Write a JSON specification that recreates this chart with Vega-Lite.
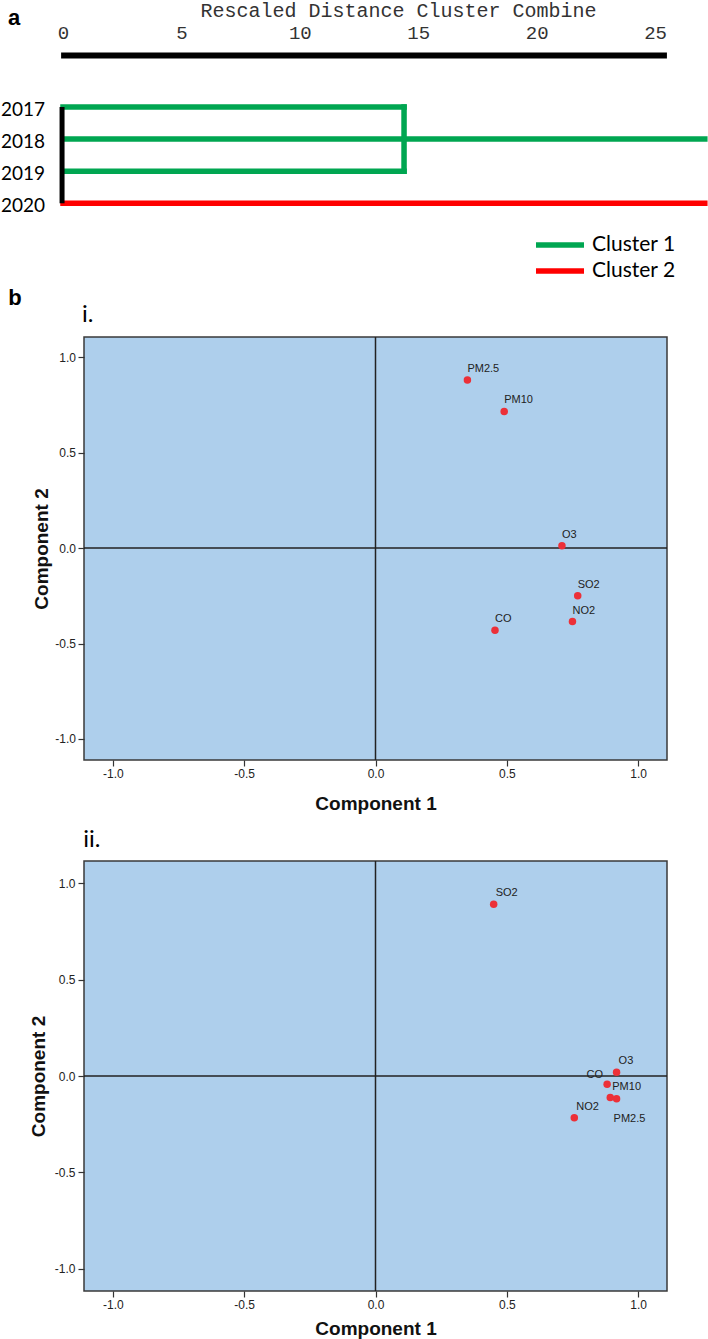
{
  "$schema": "https://vega.github.io/schema/vega-lite/v6.json",
  "background": "white",
  "padding": 0,
  "spacing": 101,
  "bounds": "flush",
  "center": true,
  "config": {"view": {"stroke": null}},
  "datasets": {
    "links": [
      {"cluster": "Cluster 1", "dist_from": 0, "dist_to": 14.4, "leaf_from": 1, "leaf_to": 1},
      {"cluster": "Cluster 1", "dist_from": 0, "dist_to": 27.1, "leaf_from": 2, "leaf_to": 2},
      {"cluster": "Cluster 1", "dist_from": 0, "dist_to": 14.4, "leaf_from": 3, "leaf_to": 3},
      {"cluster": "Cluster 1", "dist_from": 14.4, "dist_to": 14.4, "leaf_from": 1, "leaf_to": 3},
      {"cluster": "Cluster 2", "dist_from": 0, "dist_to": 27.1, "leaf_from": 4, "leaf_to": 4}
    ],
    "leaves": [
      {"year": "2017", "leaf": 1},
      {"year": "2018", "leaf": 2},
      {"year": "2019", "leaf": 3},
      {"year": "2020", "leaf": 4}
    ],
    "loadings_i": [
      {"variable": "PM2.5", "component1": 0.35, "component2": 0.88},
      {"variable": "PM10", "component1": 0.49, "component2": 0.715},
      {"variable": "O3", "component1": 0.71, "component2": 0.012},
      {"variable": "SO2", "component1": 0.77, "component2": -0.25},
      {"variable": "NO2", "component1": 0.75, "component2": -0.385},
      {"variable": "CO", "component1": 0.455, "component2": -0.43}
    ],
    "loadings_ii": [
      {"variable": "SO2", "component1": 0.45, "component2": 0.89},
      {"variable": "O3", "component1": 0.918, "component2": 0.019},
      {"variable": "CO", "component1": 0.882, "component2": -0.043},
      {"variable": "PM10", "component1": 0.894, "component2": -0.112},
      {"variable": "PM2.5", "component1": 0.918, "component2": -0.118},
      {"variable": "NO2", "component1": 0.757, "component2": -0.216}
    ]
  },
  "vconcat": [
    {
      "width": 625,
      "height": 236,
      "layer": [
        {
          "data": {"name": "links"},
          "mark": {"type": "rule", "strokeWidth": 5.5, "strokeCap": "square"},
          "encoding": {
            "x": {
              "field": "dist_from", "type": "quantitative",
              "scale": {"domain": [0, 26.39], "nice": false, "zero": false},
              "axis": {
                "orient": "top", "offset": -55.5, "values": [0, 5, 10, 15, 20, 25],
                "domain": false, "ticks": false, "tickSize": 0, "grid": false,
                "labelFont": "Liberation Mono", "labelFontSize": 19, "labelColor": "#333",
                "labelBaseline": "middle", "labelPadding": 23.5, "labelFlush": false, "labelOverlap": false,
                "title": "Rescaled Distance Cluster Combine", "titleFont": "Liberation Mono",
                "titleFontSize": 20, "titleFontWeight": "normal", "titleColor": "#333",
                "titleBaseline": "top", "titleY": -55, "titleX": 335, "titleAlign": "center"
              }
            },
            "x2": {"field": "dist_to"},
            "y": {
              "field": "leaf_from", "type": "quantitative",
              "scale": {"domain": [-2.333, 5.019], "reverse": true, "nice": false, "zero": false},
              "axis": null
            },
            "y2": {"field": "leaf_to"},
            "color": {
              "field": "cluster", "type": "nominal",
              "scale": {"domain": ["Cluster 1", "Cluster 2"], "range": ["#00A651", "#FF0000"]},
              "legend": {
                "title": null, "orient": "none", "legendX": 482, "legendY": 230, "direction": "vertical",
                "symbolType": "M-2,0H2", "symbolSize": 576, "symbolStrokeWidth": 5.5, "symbolOffset": 0,
                "labelFont": "Lato", "labelFontSize": 21, "labelColor": "#000", "labelOffset": 17,
                "labelBaseline": "middle", "rowPadding": 0, "padding": 0
              }
            }
          }
        },
        {
          "data": {"name": "leaves"},
          "mark": {"type": "rule", "color": "#000", "strokeWidth": 5},
          "encoding": {
            "x": {"datum": -0.04, "axis": {"orient": "top"}},
            "y": {"aggregate": "min", "field": "leaf", "type": "quantitative", "axis": null},
            "y2": {"aggregate": "max", "field": "leaf"}
          }
        },
        {
          "data": {"values": [{}]},
          "mark": {"type": "rule", "color": "#000", "strokeWidth": 6},
          "encoding": {
            "x": {"datum": -0.08, "axis": {"orient": "top"}},
            "x2": {"datum": 25.5},
            "y": {"datum": -0.604, "axis": null}
          }
        },
        {
          "data": {"name": "leaves"},
          "mark": {"type": "text", "align": "right", "baseline": "middle", "font": "Lato", "fontSize": 19, "color": "#000", "dy": 3},
          "encoding": {
            "x": {"datum": -0.76, "axis": {"orient": "top"}},
            "y": {"field": "leaf", "type": "quantitative", "axis": null},
            "text": {"field": "year"}
          }
        },
        {
          "data": {"values": [{}]},
          "mark": {"type": "text", "text": "a", "align": "left", "baseline": "alphabetic", "font": "Liberation Sans", "fontSize": 22, "fontWeight": "bold", "color": "#000"},
          "encoding": {
            "x": {"datum": -2.32, "axis": {"orient": "top"}},
            "y": {"datum": -1.554, "axis": null}
          }
        }
      ]
    },
    {
      "width": 583,
      "height": 423,
      "view": {"fill": "#AECFEC", "stroke": "#3a3a3a", "strokeWidth": 1.5},
      "layer": [
        {
          "data": {"values": [{}]},
          "mark": {"type": "rule", "color": "#222", "strokeWidth": 1.5},
          "encoding": {"x": {"datum": 0}}
        },
        {
          "data": {"values": [{}]},
          "mark": {"type": "rule", "color": "#222", "strokeWidth": 1.5},
          "encoding": {"y": {"datum": 0}}
        },
        {
          "data": {"name": "loadings_i"},
          "mark": {"type": "circle", "size": 56, "opacity": 1, "color": "#EC3038"},
          "encoding": {
            "x": {
              "field": "component1", "type": "quantitative",
              "scale": {"domain": [-1.11, 1.11], "nice": false, "zero": false},
              "axis": {
                "values": [-1, -0.5, 0, 0.5, 1],
                "labelExpr": "replace(format(datum.value,'.1f'),'\u2212','-')",
                "domain": false, "grid": false, "ticks": true, "tickSize": 6, "tickColor": "#333", "tickWidth": 1.2,
                "labelFont": "Liberation Sans", "labelFontSize": 12, "labelColor": "#222", "labelPadding": 2.5,
                "labelFlush": false, "labelOverlap": false,
                "title": "Component 1", "titleFont": "Liberation Sans", "titleFontSize": 19, "titleFontWeight": "bold",
                "titleColor": "#111", "titleY": 43, "titleBaseline": "middle"
              }
            },
            "y": {
              "field": "component2", "type": "quantitative",
              "scale": {"domain": [-1.11, 1.105], "nice": false, "zero": false},
              "axis": {
                "values": [-1, -0.5, 0, 0.5, 1],
                "labelExpr": "replace(format(datum.value,'.1f'),'\u2212','-')",
                "domain": false, "grid": false, "ticks": true, "tickSize": 6, "tickColor": "#333", "tickWidth": 1.2,
                "labelFont": "Liberation Sans", "labelFontSize": 12, "labelColor": "#222", "labelPadding": 2.5,
                "labelOverlap": false,
                "title": "Component 2", "titleFont": "Liberation Sans", "titleFontSize": 19, "titleFontWeight": "bold",
                "titleColor": "#111", "titleX": -42.5, "titleBaseline": "middle"
              }
            }
          }
        },
        {
          "data": {"name": "loadings_i"},
          "mark": {"type": "text", "align": "left", "baseline": "middle", "dx": 0, "dy": -11, "font": "Liberation Sans", "fontSize": 11, "color": "#222"},
          "encoding": {
            "x": {"field": "component1", "type": "quantitative"},
            "y": {"field": "component2", "type": "quantitative"},
            "text": {"field": "variable"}
          }
        },
        {
          "data": {"values": [{}]},
          "mark": {"type": "text", "text": "i.", "align": "left", "baseline": "alphabetic", "font": "Lato", "fontSize": 24, "color": "#000"},
          "encoding": {
            "x": {"datum": -1.118},
            "y": {"datum": 1.1835}
          }
        },
        {
          "data": {"values": [{}]},
          "mark": {"type": "text", "text": "b", "align": "left", "baseline": "alphabetic", "font": "Liberation Sans", "fontSize": 22, "fontWeight": "bold", "color": "#000"},
          "encoding": {
            "x": {"datum": -1.398},
            "y": {"datum": 1.2725}
          }
        }
      ]
    },
    {
      "width": 583,
      "height": 430,
      "view": {"fill": "#AECFEC", "stroke": "#3a3a3a", "strokeWidth": 1.5},
      "layer": [
        {
          "data": {"values": [{}]},
          "mark": {"type": "rule", "color": "#222", "strokeWidth": 1.5},
          "encoding": {"x": {"datum": 0}}
        },
        {
          "data": {"values": [{}]},
          "mark": {"type": "rule", "color": "#222", "strokeWidth": 1.6},
          "encoding": {"y": {"datum": 0}}
        },
        {
          "data": {"name": "loadings_ii"},
          "mark": {"type": "circle", "size": 56, "opacity": 1, "color": "#EC3038"},
          "encoding": {
            "x": {
              "field": "component1", "type": "quantitative",
              "scale": {"domain": [-1.11, 1.11], "nice": false, "zero": false},
              "axis": {
                "values": [-1, -0.5, 0, 0.5, 1],
                "labelExpr": "replace(format(datum.value,'.1f'),'\u2212','-')",
                "domain": false, "grid": false, "ticks": true, "tickSize": 6, "tickColor": "#333", "tickWidth": 1.2,
                "labelFont": "Liberation Sans", "labelFontSize": 12, "labelColor": "#222", "labelPadding": 2,
                "labelFlush": false, "labelOverlap": false,
                "title": "Component 1", "titleFont": "Liberation Sans", "titleFontSize": 19, "titleFontWeight": "bold",
                "titleColor": "#111", "titleY": 37, "titleBaseline": "middle"
              }
            },
            "y": {
              "field": "component2", "type": "quantitative",
              "scale": {"domain": [-1.114, 1.114], "nice": false, "zero": false},
              "axis": {
                "values": [-1, -0.5, 0, 0.5, 1],
                "labelExpr": "replace(format(datum.value,'.1f'),'\u2212','-')",
                "domain": false, "grid": false, "ticks": true, "tickSize": 6, "tickColor": "#333", "tickWidth": 1.2,
                "labelFont": "Liberation Sans", "labelFontSize": 12, "labelColor": "#222", "labelPadding": 3,
                "labelOverlap": false,
                "title": "Component 2", "titleFont": "Liberation Sans", "titleFontSize": 19, "titleFontWeight": "bold",
                "titleColor": "#111", "titleX": -45.5, "titleBaseline": "middle"
              }
            }
          }
        },
        {
          "data": {"name": "loadings_ii"},
          "transform": [{"filter": "datum.variable !== 'CO' && datum.variable !== 'PM2.5'"}],
          "mark": {"type": "text", "align": "left", "baseline": "middle", "dx": 2, "dy": -11, "font": "Liberation Sans", "fontSize": 11, "color": "#222"},
          "encoding": {
            "x": {"field": "component1", "type": "quantitative"},
            "y": {"field": "component2", "type": "quantitative"},
            "text": {"field": "variable"}
          }
        },
        {
          "data": {"name": "loadings_ii"},
          "transform": [{"filter": "datum.variable === 'CO'"}],
          "mark": {"type": "text", "align": "right", "baseline": "middle", "dx": -4, "dy": -9, "font": "Liberation Sans", "fontSize": 11, "color": "#222"},
          "encoding": {
            "x": {"field": "component1", "type": "quantitative"},
            "y": {"field": "component2", "type": "quantitative"},
            "text": {"field": "variable"}
          }
        },
        {
          "data": {"name": "loadings_ii"},
          "transform": [{"filter": "datum.variable === 'PM2.5'"}],
          "mark": {"type": "text", "align": "left", "baseline": "middle", "dx": -3, "dy": 20, "font": "Liberation Sans", "fontSize": 11, "color": "#222"},
          "encoding": {
            "x": {"field": "component1", "type": "quantitative"},
            "y": {"field": "component2", "type": "quantitative"},
            "text": {"field": "variable"}
          }
        },
        {
          "data": {"values": [{}]},
          "mark": {"type": "text", "text": "ii.", "align": "left", "baseline": "alphabetic", "font": "Lato", "fontSize": 24, "color": "#000"},
          "encoding": {
            "x": {"datum": -1.113},
            "y": {"datum": 1.1865}
          }
        }
      ]
    }
  ]
}
